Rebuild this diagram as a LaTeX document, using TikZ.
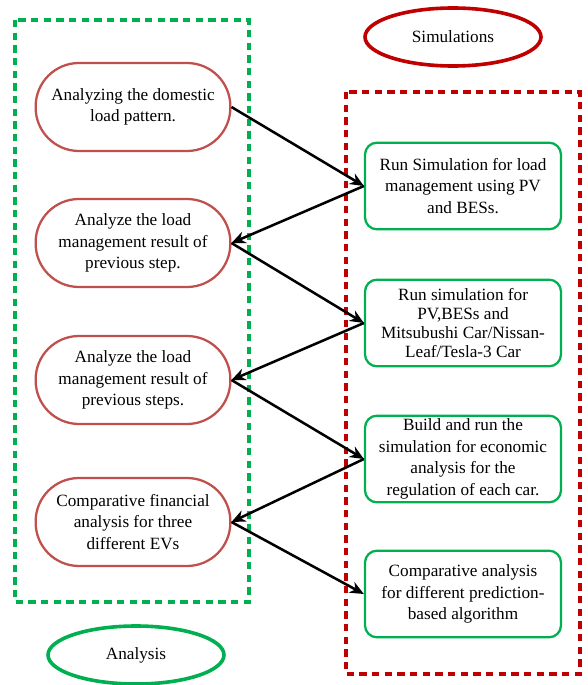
\documentclass[tikz,border=0pt]{standalone}
\usepackage{fontspec}
\setmainfont{Liberation Serif}
\usetikzlibrary{shapes.geometric,arrows.meta}
\definecolor{frameGreen}{RGB}{0,176,80}
\definecolor{frameRed}{RGB}{192,0,0}
\definecolor{anaRed}{RGB}{192,80,77}
\definecolor{simGreen}{RGB}{0,176,80}
\tikzset{
  txt/.style={align=center, font=\fontsize{12.9}{16.1}\selectfont, inner sep=0pt},
  anabox/.style={txt, rectangle, rounded corners=32.5pt, draw=anaRed, line width=1.7pt, fill=white, minimum width=146pt, minimum height=66pt},
  simbox/.style={txt, rectangle, rounded corners=9pt, draw=simGreen, line width=1.7pt, fill=white, minimum width=147pt, minimum height=65pt},
  tag/.style={txt, ellipse, line width=2.7pt, minimum width=132pt, minimum height=43.5pt},
  frame/.style={dash pattern=on 5.5pt off 4pt, line width=2.8pt},
  flow/.style={-{Stealth[length=10.5pt,width=9pt]}, line width=1.9pt}
}
\begin{document}
\begin{tikzpicture}[x=0.75pt,y=0.75pt,yscale=-1,xscale=1]
\useasboundingbox (0,0) rectangle (587,685);

%Dashed frames
\draw [frame, frameGreen] (15,20) rectangle (249,602) ;
\draw [frame, frameRed] (346,92) rectangle (580,674) ;

%Ellipses
\node [tag, draw=frameRed] (simtag) at (453,37) {Simulations};
\node [tag, draw=frameGreen] (anatag) at (136,655) {Analysis};

%Analysis steps
\node [anabox] (ana1) at (133,107) {Analyzing the domestic\\load pattern.};
\node [anabox] (ana2) at (133,243) {Analyze the load\\management result of\\previous step.};
\node [anabox] (ana3) at (133,380) {Analyze the load\\management result of\\previous steps.};
\node [anabox] (ana4) at (133,522) {Comparative financial\\analysis for three\\different EVs};

%Simulation steps
\node [simbox] (sim1) at (463,186) {Run Simulation for load\\management using PV\\and BESs.};
\node [simbox, font=\fontsize{12.9}{14.1}\selectfont] (sim2) at (463,323) {Run simulation for\\PV,BESs and\\Mitsubushi Car/Nissan-\\Leaf/Tesla-3 Car};
\node [simbox] (sim3) at (463,459) {Build and run the\\simulation for economic\\analysis for the\\regulation of each car.};
\node [simbox] (sim4) at (463,594) {Comparative analysis\\for different prediction-\\based algorithm};

%Arrows
\draw [flow] (ana1.east) -- (sim1.west) ;
\draw [flow] (sim1.west) -- (ana2.east) ;
\draw [flow] (ana2.east) -- (sim2.west) ;
\draw [flow] (sim2.west) -- (ana3.east) ;
\draw [flow] (ana3.east) -- (sim3.west) ;
\draw [flow] (sim3.west) -- (ana4.east) ;
\draw [flow] (ana4.east) -- (sim4.west) ;

\end{tikzpicture}
\end{document}
